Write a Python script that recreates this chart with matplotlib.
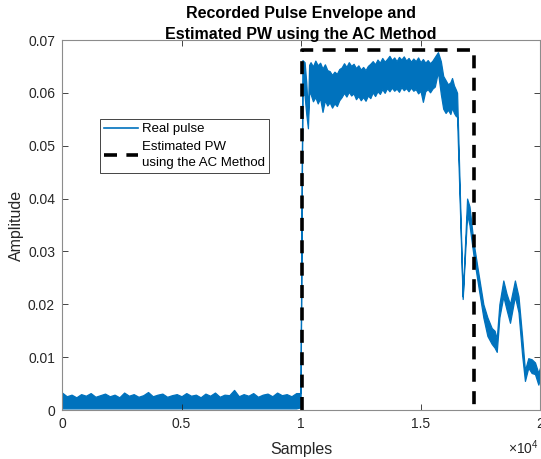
import numpy as np
import matplotlib.pyplot as plt
from matplotlib.lines import Line2D
from matplotlib.ticker import FuncFormatter

plt.rcParams['font.family'] = ['Liberation Sans', 'DejaVu Sans']
plt.rcParams['mathtext.fontset'] = 'custom'
plt.rcParams['mathtext.rm'] = 'Liberation Sans'

# envelope of the recorded pulse, in samples / amplitude
base_x = list(range(0, 10000, 200))
base_up = [0.0033, 0.0026, 0.0029, 0.0024, 0.0030, 0.0027, 0.0032, 0.0025, 0.0028, 0.0031,
           0.0026, 0.0029, 0.0024, 0.0033, 0.0027, 0.0030, 0.0025, 0.0028, 0.0034, 0.0026,
           0.0029, 0.0031, 0.0025, 0.0028, 0.0030, 0.0026, 0.0032, 0.0027, 0.0029, 0.0024,
           0.0031, 0.0027, 0.0033, 0.0025, 0.0029, 0.0028, 0.0038, 0.0026, 0.0030, 0.0027,
           0.0032, 0.0025, 0.0029, 0.0031, 0.0026, 0.0033, 0.0028, 0.0030, 0.0026, 0.0032]
base_lo = [0.0003] * len(base_x)

edge_x = [9980, 10060, 10150, 10220, 10290, 10340]
edge_up = [0.0032, 0.0662, 0.0658, 0.0620, 0.0560, 0.0653]
edge_lo = [0.0005, 0.0600, 0.0595, 0.0560, 0.0533, 0.0600]

top_x = list(range(10400, 15700, 100)) + [15730, 15850, 15950, 16050, 16150,
                                          16250, 16320, 16400, 16480, 16530]
top_up = [0.0658, 0.0650, 0.0661, 0.0652, 0.0657, 0.0646, 0.0654, 0.0643, 0.0641, 0.0634,
          0.0640, 0.0636, 0.0645, 0.0648, 0.0656, 0.0649, 0.0658, 0.0651, 0.0655, 0.0647,
          0.0652, 0.0644, 0.0649, 0.0643, 0.0651, 0.0655, 0.0660, 0.0654, 0.0663, 0.0657,
          0.0666, 0.0659, 0.0664, 0.0670, 0.0662, 0.0667, 0.0660, 0.0668, 0.0663, 0.0669,
          0.0661, 0.0666, 0.0659, 0.0665, 0.0660, 0.0667, 0.0658, 0.0664, 0.0657, 0.0662,
          0.0656, 0.0661, 0.0668,
          0.0677, 0.0660, 0.0632, 0.0624, 0.0616, 0.0620, 0.0628, 0.0614, 0.0606, 0.0600]
top_lo = [0.0598, 0.0584, 0.0592, 0.0580, 0.0590, 0.0564, 0.0586, 0.0576, 0.0582, 0.0572,
          0.0580, 0.0575, 0.0586, 0.0592, 0.0600, 0.0593, 0.0602, 0.0595, 0.0599, 0.0588,
          0.0594, 0.0586, 0.0592, 0.0585, 0.0595, 0.0590, 0.0601, 0.0594, 0.0603, 0.0598,
          0.0607, 0.0600, 0.0609, 0.0603, 0.0610, 0.0604, 0.0608, 0.0602, 0.0611, 0.0605,
          0.0609, 0.0603, 0.0610, 0.0604, 0.0607, 0.0599, 0.0604, 0.0583, 0.0603, 0.0607,
          0.0601, 0.0608, 0.0612,
          0.0640, 0.0598, 0.0570, 0.0562, 0.0568, 0.0560, 0.0572, 0.0562, 0.0556, 0.0555]

tail_x = [16765, 16950, 17050, 17210, 17400, 17630, 17800, 17980, 18100, 18190,
          18300, 18465, 18600, 18745, 18950, 19100, 19250, 19370, 19510, 19650,
          19790, 19930, 20000]
tail_up = [0.0215, 0.0400, 0.0385, 0.0320, 0.0265, 0.0200, 0.0175, 0.0155, 0.0150, 0.0135,
           0.0200, 0.0245, 0.0220, 0.0200, 0.0245, 0.0215, 0.0140, 0.0075, 0.0098, 0.0096,
           0.0090, 0.0070, 0.0080]
tail_lo = [0.0210, 0.0370, 0.0350, 0.0295, 0.0240, 0.0175, 0.0140, 0.0125, 0.0118, 0.0110,
           0.0175, 0.0215, 0.0190, 0.0165, 0.0215, 0.0185, 0.0105, 0.0055, 0.0080, 0.0070,
           0.0068, 0.0048, 0.0060]

# estimated pulse width (AC method)
pw_start = 10050
pw_end = 17240
pw_amp = 0.0681

x = np.array(base_x + edge_x + top_x + tail_x)
up = np.array(base_up + edge_up + top_up + tail_up)
lo = np.array(base_lo + edge_lo + top_lo + tail_lo)

blue = '#0072BD'
grey = '#262626'
dash = (3.6, 2.6)

fig = plt.figure(figsize=(5.41, 4.59), dpi=100)
ax = fig.add_axes([62 / 541, 49 / 459, 478 / 541, 370 / 459])

ax.fill_between(x, lo, up, color=blue, lw=0.9, edgecolor=blue)
ax.plot([pw_start, pw_start, pw_end, pw_end], [0, pw_amp, pw_amp, 0],
        color='k', lw=2.6, dashes=dash)

ax.set_xlim(0, 20000)
ax.set_ylim(0, 0.07)
ax.set_xticks([0, 5000, 10000, 15000, 20000])
ax.xaxis.set_major_formatter(FuncFormatter(lambda v, p: '%g' % (v / 1e4)))
ax.set_yticks(np.arange(0, 0.071, 0.01))
ax.yaxis.set_major_formatter(FuncFormatter(lambda v, p: '%g' % round(v, 2)))

ax.tick_params(direction='in', top=True, right=True, length=4, width=0.6,
               labelsize=10, colors=grey, pad=5)
for s in ax.spines.values():
    s.set_color('#8c8c8c')
    s.set_linewidth(0.8)

ax.set_xlabel('Samples', fontsize=11.5, color=grey, labelpad=8)
ax.set_ylabel('Amplitude', fontsize=11.5, color=grey, labelpad=2.5)
ax.set_title('Recorded Pulse Envelope and\nEstimated PW using the AC Method',
             fontsize=11.5, fontweight='bold', color='k', pad=0.5, linespacing=1.5)
ax.text(0.998, -0.103, r'$\times10^{4}$', transform=ax.transAxes, ha='right',
        va='center', fontsize=10, color=grey)

handles = [Line2D([], [], color=blue, lw=1.2),
           Line2D([], [], color='k', lw=2.6, dashes=dash)]
leg = ax.legend(handles, ['Real pulse', 'Estimated PW\nusing the AC Method'],
                loc='upper left', bbox_to_anchor=(0.0795, 0.786), borderaxespad=0,
                fontsize=9.5, fancybox=False, framealpha=1, handlelength=2.6,
                handletextpad=0.25, borderpad=0.3, labelspacing=0.4)
for t in leg.get_texts():
    t.set_linespacing(1.45)
leg.get_frame().set_edgecolor(grey)
leg.get_frame().set_linewidth(0.6)

fig.savefig('out.png', dpi=100)
